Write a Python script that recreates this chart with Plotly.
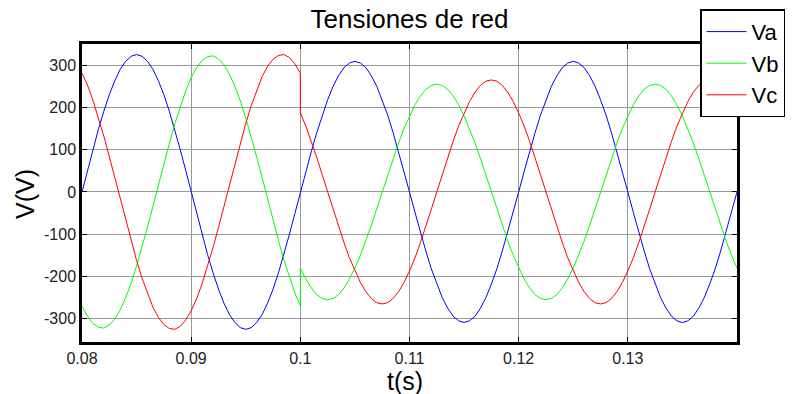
import numpy as np
import plotly.graph_objects as go

# ---- data ----
t_pre_start, t_post_start, t_step = 0.08, 0.10, 0.0005

va_pre = [0, 51, 100, 148, 191, 230, 263, 290, 309, 321, 325, 321, 309, 290, 263, 230, 191, 148, 100, 51,
          0, -51, -100, -148, -191, -230, -263, -290, -309, -321, -325, -321, -309, -290, -263, -230, -191, -148, -100, -51, 0]
vb_pre = [-270, -294, -311, -320, -322, -315, -301, -279, -250, -216, -175, -131, -83, -34, 17, 67, 115, 161, 203, 239,
          270, 294, 311, 320, 322, 315, 301, 279, 250, 216, 175, 131, 83, 34, -17, -67, -115, -161, -203, -239, -270]
vc_pre = [281, 253, 217, 177, 132, 84, 34, -17, -68, -116, -162, -204, -241, -273, -297, -314, -323, -325, -318, -303,
          -281, -253, -217, -177, -132, -84, -34, 17, 68, 116, 162, 204, 241, 273, 297, 314, 323, 325, 318, 303, 281]

va_post = [0, 48, 95, 140, 182, 218, 250, 275, 294, 305, 309, 305, 294, 275, 250, 218, 182, 140, 95, 48,
           0, -48, -95, -140, -182, -218, -250, -275, -294, -305, -309, -305, -294, -275, -250, -218, -182, -140, -95, -48,
           0, 48, 95, 140, 182, 218, 250, 275, 294, 305, 309, 305, 294, 275, 250, 218, 182, 140, 95, 48,
           0, -48, -95, -140, -182, -218, -250, -275, -294, -305, -309, -305, -294, -275, -250, -218, -182, -140, -95, -48, 0]
vb_post = [-180, -206, -227, -243, -252, -255, -252, -243, -227, -206, -180, -150, -116, -79, -40, 0, 40, 79, 116, 150,
           180, 206, 227, 243, 252, 255, 252, 243, 227, 206, 180, 150, 116, 79, 40, 0, -40, -79, -116, -150,
           -180, -206, -227, -243, -252, -255, -252, -243, -227, -206, -180, -150, -116, -79, -40, 0, 40, 79, 116, 150,
           180, 206, 227, 243, 252, 255, 252, 243, 227, 206, 180, 150, 116, 79, 40, 0, -40, -79, -116, -150, -180]
vc_post = [187, 156, 120, 82, 41, 0, -41, -82, -120, -156, -187, -214, -236, -252, -262, -265, -262, -252, -236, -214,
           -187, -156, -120, -82, -41, 0, 41, 82, 120, 156, 187, 214, 236, 252, 262, 265, 262, 252, 236, 214,
           187, 156, 120, 82, 41, 0, -41, -82, -120, -156, -187, -214, -236, -252, -262, -265, -262, -252, -236, -214,
           -187, -156, -120, -82, -41, 0, 41, 82, 120, 156, 187, 214, 236, 252, 262, 265, 262, 252, 236, 214, 187]

series_names = ["Va", "Vb", "Vc"]
series_colors = ["#0000ff", "#00ff00", "#ff0000"]

x_tick_vals = [0.08, 0.09, 0.10, 0.11, 0.12, 0.13]
x_tick_text = ["0.08", "0.09", "0.1", "0.11", "0.12", "0.13"]
y_tick_vals = [-300, -200, -100, 0, 100, 200, 300]
y_tick_text = ["-300", "-200", "-100", "0", "100", "200", "300"]

title_text = "Tensiones de red"
x_label = "t(s)"
y_label = "V(V)"

# ---- build ----
t_pre = np.round(t_pre_start + t_step * np.arange(len(va_pre)), 6)
t_post = np.round(t_post_start + t_step * np.arange(len(va_post)), 6)
t_all = np.concatenate([t_pre, t_post])

font_family = "Liberation Sans, Arial, sans-serif"
W, H = 795, 394

fig = go.Figure()
for name, color, pre, post in zip(series_names, series_colors,
                                  [va_pre, vb_pre, vc_pre], [va_post, vb_post, vc_post]):
    fig.add_trace(go.Scatter(x=t_all, y=list(pre) + list(post), mode="lines", name=name,
                             line=dict(color=color, width=1)))

axis_common = dict(showgrid=True, gridcolor="#999999", gridwidth=1, zeroline=False,
                   showline=True, linecolor="black", linewidth=2.5, mirror="ticks",
                   ticks="inside", ticklen=5, tickcolor="black", tickwidth=1,
                   tickfont=dict(family=font_family, size=16, color="#222"))

fig.update_xaxes(range=[0.08, 0.14], tickvals=x_tick_vals, ticktext=x_tick_text, **axis_common)
fig.update_yaxes(range=[-355, 350], tickvals=y_tick_vals, ticktext=y_tick_text, **axis_common)

fig.update_layout(
    width=W, height=H, autosize=False,
    margin=dict(l=82, r=58, t=44, b=52, pad=0, autoexpand=False),
    plot_bgcolor="white", paper_bgcolor="white",
    font=dict(family=font_family, color="black"),
    title=dict(text=title_text, x=0.5, xref="paper", xanchor="center",
               y=1 - 19 / H, yref="container", yanchor="middle",
               font=dict(family=font_family, size=26, color="black")),
    legend=dict(x=700 / W, y=1 - 9.3 / H, xref="container", yref="container",
                xanchor="left", yanchor="top",
                bgcolor="white", bordercolor="black", borderwidth=1.5,
                font=dict(family=font_family, size=22, color="black"),
                itemwidth=40, tracegroupgap=0),
    annotations=[
        dict(text=x_label, x=0.493, y=-(381 - 342) / 298, xref="paper", yref="paper",
             xanchor="center", yanchor="middle", showarrow=False,
             font=dict(family=font_family, size=25, color="black")),
        dict(text=y_label, x=(25 - 82) / 655, y=0.497, xref="paper", yref="paper",
             xanchor="center", yanchor="middle", showarrow=False, textangle=-90,
             font=dict(family=font_family, size=25, color="black")),
    ],
)

fig.write_html("out.html")
